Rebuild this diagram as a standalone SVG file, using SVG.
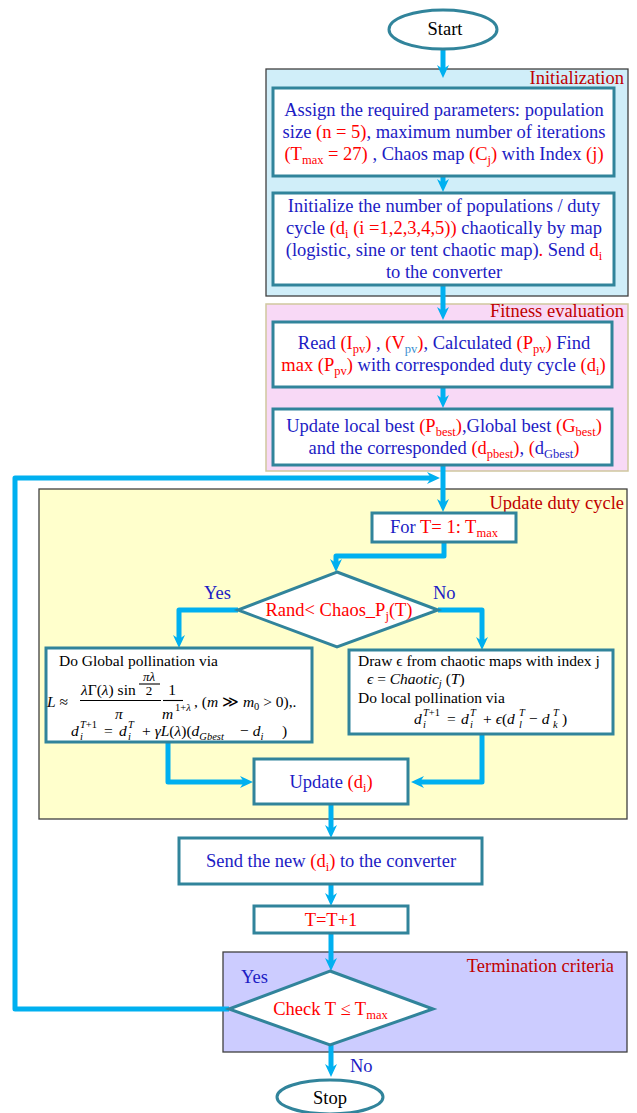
<svg xmlns="http://www.w3.org/2000/svg" width="637" height="1113" viewBox="0 0 637 1113">
<style>
text { font-family: "Liberation Serif", "Times New Roman", "DejaVu Serif", serif; }
.t { font-size: 18.5px; }
.ctr { text-anchor: middle; }
.b { fill: #1c1cc4; }
.r { fill: #ff0000; }
.lb { fill: #3b8fd0; }
.k { fill: #000000; }
.s { font-size: 12.5px; }
.lab { fill: #c00000; font-size: 18.5px; text-anchor: end; }
.box { fill: #ffffff; stroke: #31849b; stroke-width: 3; }
.grp { stroke: #404040; stroke-width: 1.3; }
.con { fill: none; stroke: #00b0f0; stroke-width: 5; stroke-linejoin: round; marker-end: url(#ah); }
.m { font-size: 15.5px; fill: #000000; }
.ms { font-size: 10.5px; fill: #000000; }
.mf { font-size: 13px; fill: #000000; }
.i { font-style: italic; }
.bar { stroke: #000000; stroke-width: 1.1; }
</style>
<defs>
<marker id="ah" viewBox="0 0 13 12" refX="4" refY="6" markerWidth="13" markerHeight="12" markerUnits="userSpaceOnUse" orient="auto">
<path d="M0,0 L13,6 L0,12 L4,6 Z" fill="#00b0f0"/>
</marker>
</defs>

<!-- containers -->
<g id="initialization">
<rect x="266" y="69" width="362" height="227" fill="#d0eef9" class="grp"/>
<text class="lab" x="624" y="84">Initialization</text>
</g>
<g id="fitness-evaluation">
<rect x="266" y="304" width="362" height="167" fill="#f8d9f6" stroke="#cfc79f" stroke-width="1.5"/>
<text class="lab" x="624" y="317">Fitness evaluation</text>
</g>
<g id="update-duty-cycle">
<rect x="39" y="489" width="588" height="330" fill="#ffffcc" class="grp"/>
<text class="lab" x="624" y="509">Update duty cycle</text>
</g>
<g id="termination-criteria">
<rect x="223" y="952" width="404" height="100" fill="#ccccff" class="grp"/>
<text class="lab" x="614" y="972">Termination criteria</text>
</g>

<!-- connectors -->
<g id="connectors">
<path class="con" d="M443,49 V69"/>
<path class="con" d="M443,176 V183"/>
<path class="con" d="M443,285 V311"/>
<path class="con" d="M443,387 V399"/>
<path class="con" d="M443,465 V503"/>
<path class="con" d="M444,542 V556 H336 V563"/>
<path class="con" d="M238,610 H179 V639"/>
<path class="con" d="M438,610 H482 V641"/>
<path class="con" d="M168,742 V782 H244"/>
<path class="con" d="M482,734 V782 H420"/>
<path class="con" d="M331,804 V829"/>
<path class="con" d="M331,884 V897"/>
<path class="con" d="M331,933 V962"/>
<path class="con" d="M331,1045 V1068"/>
<path class="con" d="M229,1009 H15 V478 H431"/>
</g>

<!-- nodes -->
<g id="start">
<ellipse cx="443" cy="29.5" rx="54" ry="19.5" class="box"/>
<text class="t k ctr" x="445" y="35">Start</text>
</g>

<g id="assign-parameters">
<rect x="273" y="88" width="341" height="88" class="box"/>
<text class="t ctr b" x="444" y="115.5">Assign the required parameters: population</text>
<text class="t ctr" x="444" y="137.5"><tspan class="b">size </tspan><tspan class="r">(n = 5)</tspan><tspan class="b">, maximum number of iterations</tspan></text>
<text class="t ctr" x="444" y="160"><tspan class="r">(T</tspan><tspan class="r s" dy="4">max</tspan><tspan class="r" dy="-4"> = 27)</tspan><tspan class="b"> , Chaos map </tspan><tspan class="r">(C</tspan><tspan class="r s" dy="4">j</tspan><tspan class="r" dy="-4">)</tspan><tspan class="b"> with Index </tspan><tspan class="r">(j)</tspan></text>
</g>

<g id="initialize-population">
<rect x="273" y="193" width="341" height="92" class="box"/>
<text class="t ctr b" x="444" y="212">Initialize the number of populations / duty</text>
<text class="t ctr" x="444" y="234"><tspan class="b">cycle </tspan><tspan class="r">(d</tspan><tspan class="r s" dy="4">i</tspan><tspan class="r" dy="-4"> (i =1,2,3,4,5))</tspan><tspan class="b"> chaotically by map</tspan></text>
<text class="t ctr" x="444" y="256"><tspan class="b">(logistic, sine or tent chaotic map)</tspan><tspan class="r">.</tspan><tspan class="b"> Send </tspan><tspan class="r">d</tspan><tspan class="r s" dy="4">i</tspan></text>
<text class="t ctr b" x="444" y="278">to the converter</text>
</g>

<g id="read-power">
<rect x="273" y="322" width="339" height="65" class="box"/>
<text class="t ctr" x="444" y="349"><tspan class="b">Read </tspan><tspan class="r">(I</tspan><tspan class="r s" dy="4">pv</tspan><tspan class="r" dy="-4">)</tspan><tspan class="b"> , </tspan><tspan class="r">(V</tspan><tspan class="lb s" dy="4">pv</tspan><tspan class="r" dy="-4">)</tspan><tspan class="b">, Calculated  </tspan><tspan class="r">(P</tspan><tspan class="r s" dy="4">pv</tspan><tspan class="r" dy="-4">)</tspan><tspan class="b"> Find</tspan></text>
<text class="t ctr" x="443.5" y="371"><tspan class="r">max (P</tspan><tspan class="r s" dy="4">pv</tspan><tspan class="r" dy="-4">)</tspan><tspan class="b"> with corresponded  duty cycle </tspan><tspan class="r">(d</tspan><tspan class="r s" dy="4">i</tspan><tspan class="r" dy="-4">)</tspan></text>
</g>

<g id="update-best">
<rect x="273" y="409" width="339" height="56" class="box"/>
<text class="t ctr" x="444" y="432"><tspan class="b">Update local best </tspan><tspan class="r">(P</tspan><tspan class="r s" dy="4">best</tspan><tspan class="r" dy="-4">)</tspan><tspan class="b">,Global best </tspan><tspan class="r">(G</tspan><tspan class="r s" dy="4">best</tspan><tspan class="r" dy="-4">)</tspan></text>
<text class="t ctr" x="444" y="454"><tspan class="b">and the corresponded </tspan><tspan class="r">(d</tspan><tspan class="r s" dy="4">pbest</tspan><tspan class="r" dy="-4">)</tspan><tspan class="b">, </tspan><tspan class="r">(</tspan><tspan class="b">d</tspan><tspan class="b s" dy="4">Gbest</tspan><tspan class="r" dy="-4">)</tspan></text>
</g>

<g id="for-loop">
<rect x="372" y="513" width="144" height="29" class="box"/>
<text class="t ctr" x="444" y="533"><tspan class="b">For </tspan><tspan class="r">T= 1: T</tspan><tspan class="r s" dy="4">max</tspan></text>
</g>

<g id="rand-decision">
<polygon points="337,572 438,610 337,647 238,610" class="box"/>
<text class="t ctr" x="339" y="616"><tspan class="r">Rand&lt; Chaos_P</tspan><tspan class="r s" dy="4">j</tspan><tspan class="r" dy="-4">(T)</tspan></text>
<text class="t b" x="204" y="599">Yes</text>
<text class="t b" x="433" y="599">No</text>
</g>

<g id="global-pollination">
<rect x="46" y="648" width="266" height="94" class="box"/>
<text class="m" x="59" y="666">Do Global pollination via</text>
<text class="m" x="47" y="707"><tspan class="i">L</tspan> ≈</text>
<text class="m" x="81" y="695"><tspan class="i">λ</tspan>Γ(<tspan class="i">λ</tspan>) sin</text>
<text class="mf i ctr" x="149" y="681">πλ</text>
<line class="bar" x1="139" y1="684" x2="160" y2="684"/>
<text class="mf ctr" x="149" y="695">2</text>
<line class="bar" x1="80" y1="700.5" x2="161" y2="700.5"/>
<text class="m i ctr" x="119" y="719">π</text>
<text class="m ctr" x="172" y="695">1</text>
<line class="bar" x1="163" y1="700.5" x2="183" y2="700.5"/>
<text class="m i" x="162" y="719">m</text>
<text class="ms" x="175" y="711">1+<tspan class="i">λ</tspan></text>
<text class="m" x="194" y="707">, (<tspan class="i">m</tspan> ≫ <tspan class="i">m</tspan><tspan class="ms" dy="3">0</tspan><tspan dy="-3"> &gt; 0),.</tspan></text>
<text class="m"><tspan class="i" x="71" y="736">d</tspan><tspan class="ms i" x="80" y="728">T</tspan><tspan class="ms">+1</tspan><tspan class="ms i" x="80" y="740">i</tspan><tspan x="104" y="736">=</tspan><tspan class="i" x="119" y="736">d</tspan><tspan class="ms i" x="128" y="728">T</tspan><tspan class="ms i" x="128" y="740">i</tspan><tspan x="142" y="736">+ </tspan><tspan class="i">γL</tspan><tspan>(</tspan><tspan class="i">λ</tspan><tspan>)(</tspan><tspan class="i">d</tspan><tspan class="ms i" y="740">Gbest</tspan><tspan x="240" y="736">− </tspan><tspan class="i">d</tspan><tspan class="ms i" y="740">i</tspan><tspan x="282" y="736">)</tspan></text>
</g>

<g id="local-pollination">
<rect x="349" y="650" width="264" height="84" class="box"/>
<text class="m" x="358" y="666">Draw ϵ from chaotic maps with index j</text>
<text class="m" x="367" y="684"><tspan class="i">ϵ</tspan> = <tspan class="i">Chaotic</tspan><tspan class="ms i" dy="3">j</tspan><tspan dy="-3"> (</tspan><tspan class="i">T</tspan>)</text>
<text class="m" x="358" y="703">Do local pollination via</text>
<text class="m"><tspan class="i" x="414" y="724">d</tspan><tspan class="ms i" x="423" y="716">T</tspan><tspan class="ms">+1</tspan><tspan class="ms i" x="423" y="728">i</tspan><tspan x="447" y="724">=</tspan><tspan class="i" x="461" y="724">d</tspan><tspan class="ms i" x="470" y="716">T</tspan><tspan class="ms i" x="470" y="728">i</tspan><tspan x="483" y="724">+ </tspan><tspan class="i">ϵ</tspan><tspan>(</tspan><tspan class="i">d</tspan><tspan class="ms i" x="519" y="716">T</tspan><tspan class="ms i" x="519" y="728">l</tspan><tspan x="529" y="724">− </tspan><tspan class="i">d</tspan><tspan class="ms i" x="553" y="716">T</tspan><tspan class="ms i" x="553" y="728">k</tspan><tspan x="562" y="724">)</tspan></text>
</g>

<g id="update-di">
<rect x="254" y="759" width="154" height="45" class="box"/>
<text class="t ctr" x="331" y="788"><tspan class="b">Update </tspan><tspan class="r">(d</tspan><tspan class="r s" dy="4">i</tspan><tspan class="r" dy="-4">)</tspan></text>
</g>

<g id="send-new">
<rect x="179" y="838" width="303" height="46" class="box"/>
<text class="t ctr" x="331" y="867"><tspan class="b">Send the new </tspan><tspan class="r">(d</tspan><tspan class="r s" dy="4">i</tspan><tspan class="r" dy="-4">)</tspan><tspan class="b"> to the converter</tspan></text>
</g>

<g id="increment-t">
<rect x="254" y="906" width="154" height="27" class="box"/>
<text class="t ctr r" x="331" y="926">T=T+1</text>
</g>

<g id="check-decision">
<polygon points="330,971 433,1009 330,1045 229,1009" class="box"/>
<text class="t ctr" x="330.5" y="1015"><tspan class="r">Check T ≤ T</tspan><tspan class="r s" dy="4">max</tspan></text>
<text class="t b" x="241" y="983">Yes</text>
<text class="t b" x="350" y="1072">No</text>
</g>

<g id="stop">
<ellipse cx="330" cy="1097" rx="53" ry="17" class="box"/>
<text class="t k ctr" x="330" y="1104">Stop</text>
</g>
</svg>
